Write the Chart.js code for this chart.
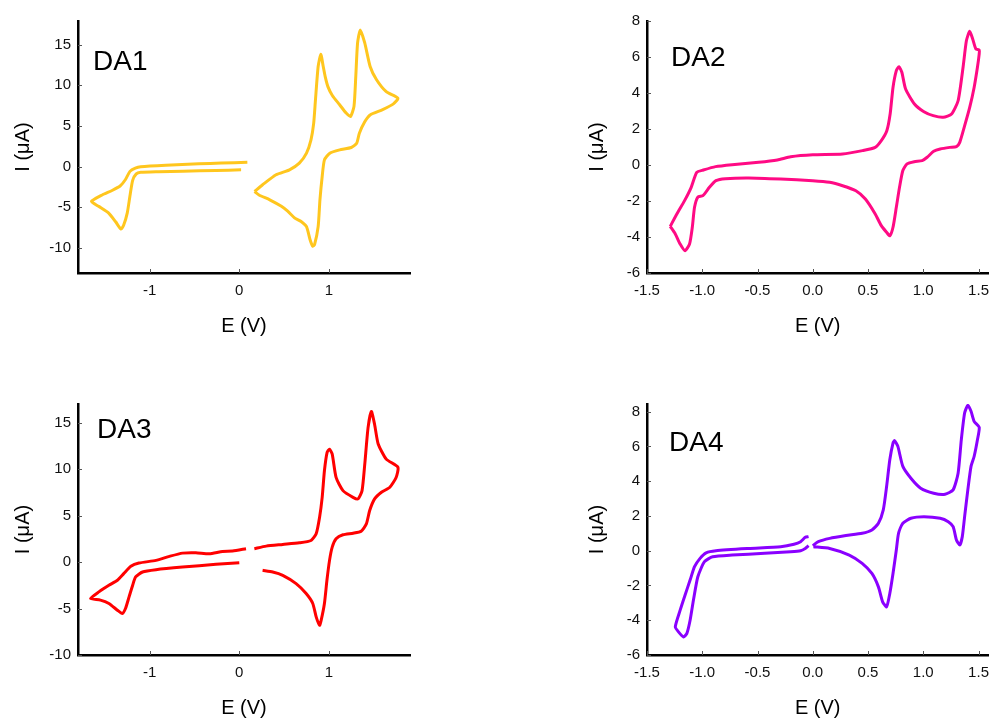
<!DOCTYPE html>
<html>
<head>
<meta charset="utf-8">
<title>Cyclic voltammograms DA1-DA4</title>
<script src="https://cdn.jsdelivr.net/npm/chart.js@4.4.1/dist/chart.umd.min.js"></script>
<style>
  body { margin: 0; background: #fff; }
  .panel { position: absolute; width: 499px; height: 360px; }
</style>
</head>
<body>
<div class="panel" style="left:0;top:0"><canvas id="da1"></canvas></div>
<div class="panel" style="left:499px;top:0"><canvas id="da2"></canvas></div>
<div class="panel" style="left:0;top:360px"><canvas id="da3"></canvas></div>
<div class="panel" style="left:499px;top:360px"><canvas id="da4"></canvas></div>
<script>
// potentials (V) and currents (uA), null = break in the trace
const da1E = [0.09, -0.2, -0.45, -0.82, -1.1, -1.16, -1.22, -1.27, -1.33, -1.42, -1.53, -1.65, -1.57, -1.46, -1.38, -1.32, -1.29, -1.25, -1.22, -1.19, -1.15, -1.1, -0.9, -0.63, -0.26, 0.02,
  null,
  0.17, 0.26, 0.41, 0.56, 0.67, 0.75, 0.80, 0.83, 0.85, 0.88, 0.91, 0.935, 0.96, 0.99, 1.04, 1.12, 1.19, 1.24, 1.28, 1.30, 1.32, 1.35, 1.40, 1.46, 1.53, 1.64, 1.77,
  1.72, 1.60, 1.46, 1.40, 1.34, 1.31, 1.25, 1.12, 1.01, 0.95, 0.925, 0.90, 0.88, 0.84, 0.82, 0.79, 0.75, 0.69, 0.62, 0.54, 0.47, 0.34, 0.22, 0.17];
const da1I = [0.53, 0.42, 0.33, 0.16, -0.03, -0.2, -0.6, -1.6, -2.4, -2.95, -3.5, -4.3, -4.9, -5.7, -6.8, -7.7, -7.2, -5.7, -3.6, -1.7, -0.9, -0.72, -0.64, -0.57, -0.48, -0.41,
  null,
  -3.07, -2.25, -1.02, -0.41, 0.41, 1.64, 3.28, 5.3, 8.2, 12.3, 13.8, 12.4, 11.0, 9.8, 8.7, 7.6, 6.6, 6.15, 7.4, 11.1, 15.2, 16.8, 15.2, 12.3, 10.7, 9.2, 8.4,
  7.7, 7.0, 6.35, 5.5, 4.1, 2.87, 2.34, 2.05, 1.64, 0.82, -1.23, -4.1, -7.4, -9.6, -9.8, -9.0, -7.4, -6.76, -6.35, -5.5, -4.9, -4.1, -3.5, -3.07];

const da2E = [-1.29, -1.23, -1.16, -1.10, -1.05, -0.99, -0.88, -0.73, -0.49, -0.32, -0.2, 0, 0.27, 0.45, 0.565, 0.62, 0.67, 0.70, 0.726, 0.756, 0.78, 0.806, 0.84, 0.92, 1.006, 1.09, 1.18, 1.256, 1.315, 1.36, 1.39, 1.42, 1.447, 1.476, 1.506,
  1.506, 1.49, 1.46, 1.42, 1.37, 1.33, 1.30, 1.24, 1.153, 1.094, 1.035, 0.99, 0.918, 0.853, 0.815, 0.785, 0.756, 0.726, 0.697, 0.668, 0.62, 0.565, 0.476, 0.39, 0.27, 0.153, 0, -0.29, -0.58, -0.79, -0.876, -0.935, -0.994, -1.04, -1.07, -1.09, -1.115, -1.156, -1.2, -1.244, -1.29];
const da2I = [-3.41, -2.72, -1.98, -1.24, -0.41, -0.28, -0.09, 0.02, 0.15, 0.28, 0.46, 0.57, 0.61, 0.8, 0.98, 1.35, 1.9, 2.83, 4.31, 5.24, 5.46, 5.15, 4.22, 3.39, 2.96, 2.74, 2.65, 2.83, 3.57, 5.43, 6.9, 7.43, 7.0, 6.44, 6.39,
  6.17, 5.43, 4.31, 3.2, 2.09, 1.26, 1.02, 0.98, 0.89, 0.76, 0.43, 0.24, 0.185, 0.06, -0.31, -1.24, -2.35, -3.46, -3.93, -3.74, -3.37, -2.72, -1.89, -1.43, -1.15, -0.96, -0.87, -0.78, -0.72, -0.76, -0.87, -1.24, -1.7, -1.78, -2.35, -3.46, -4.39, -4.76, -4.39, -3.83, -3.41];

const da3E = [0, -0.26, -0.634, -0.93, -1.08, -1.157, -1.19, -1.23, -1.27, -1.306, -1.36, -1.455, -1.55, -1.66,
  -1.567, -1.455, -1.36, -1.29, -1.21, -1.12, -0.93, -0.78, -0.634, -0.485, -0.336, -0.187, -0.075, 0.075,
  null,
  0.168, 0.3, 0.485, 0.67, 0.8, 0.858, 0.896, 0.925, 0.95, 0.98, 1.007, 1.037, 1.08, 1.157, 1.269, 1.325, 1.37, 1.4, 1.437, 1.474, 1.51, 1.55, 1.64, 1.77,
  1.75, 1.68, 1.586, 1.51, 1.455, 1.418, 1.36, 1.27, 1.157, 1.08, 1.037, 1.007, 0.978, 0.95, 0.914, 0.896, 0.858, 0.82, 0.746, 0.634, 0.485, 0.373, 0.26];
const da3I = [-0.07, -0.25, -0.54, -0.82, -1.07, -1.6, -2.5, -3.75, -5.0, -5.54, -5.18, -4.46, -4.1, -3.93,
  -3.21, -2.5, -1.96, -1.25, -0.46, -0.11, 0.18, 0.61, 0.96, 1.0, 0.89, 1.14, 1.18, 1.43,
  null,
  1.43, 1.71, 1.89, 2.07, 2.32, 3.04, 4.82, 6.96, 9.82, 11.8, 12.14, 11.6, 9.1, 7.68, 6.96, 6.79, 7.68, 10.5, 14.46, 16.2, 14.8, 12.7, 11.07, 10.2,
  9.1, 8.04, 7.5, 6.79, 5.54, 4.1, 3.32, 3.1, 2.93, 2.5, 1.6, 0.18, -1.96, -4.46, -6.25, -6.79, -5.9, -4.46, -3.39, -2.32, -1.43, -1.07, -0.89];

const da4E = [-0.038, -0.068, -0.11, -0.17, -0.29, -0.58, -0.876, -0.965, -1.02, -1.07, -1.11, -1.156, -1.2, -1.244,
  -1.215, -1.17, -1.14, -1.11, -1.08, -1.04, -0.98, -0.906, -0.73, -0.435, -0.2, -0.11, -0.068, -0.038,
  null,
  0, 0.05, 0.153, 0.3, 0.447, 0.535, 0.594, 0.638, 0.668, 0.697, 0.726, 0.74, 0.77, 0.815, 0.888, 0.976, 1.094, 1.197, 1.27, 1.315, 1.344, 1.374, 1.403, 1.432, 1.46, 1.506,
  1.49, 1.46, 1.432, 1.403, 1.374, 1.353, 1.33, 1.3, 1.27, 1.226, 1.153, 1.006, 0.888, 0.815, 0.776, 0.756, 0.726, 0.697, 0.668, 0.632, 0.594, 0.535, 0.447, 0.33, 0.153, 0.006];
const da4I = [0.81, 0.77, 0.52, 0.37, 0.23, 0.13, 0.0, -0.12, -0.44, -0.92, -1.69, -2.56, -3.42, -4.38,
  -4.67, -4.96, -4.77, -4.0, -2.85, -1.5, -0.63, -0.35, -0.25, -0.15, -0.06, 0, 0.13, 0.29,
  null,
  0.29, 0.52, 0.71, 0.87, 1.0, 1.19, 1.58, 2.35, 3.69, 5.23, 6.19, 6.33, 6.0, 4.85, 4.17, 3.6, 3.31, 3.25, 3.5, 4.46, 6.38, 7.92, 8.37, 8.02, 7.44, 7.1,
  6.38, 5.42, 4.85, 3.5, 1.96, 0.81, 0.33, 0.62, 1.38, 1.67, 1.87, 1.96, 1.87, 1.58, 1.0, 0.04, -1.31, -2.46, -3.23, -2.94, -2.08, -1.31, -0.73, -0.25, 0.13, 0.23];

// tick values
const wideETicks = [-1, 0, 1];
const narrowETicks = [-1.5, -1.0, -0.5, 0.0, 0.5, 1.0, 1.5];
const bigITicks = [-10, -5, 0, 5, 10, 15];
const smallITicks = [-6, -4, -2, 0, 2, 4, 6, 8];

const FONT = '"Liberation Sans", Arial, sans-serif';

// short tick marks pointing into the plot
const innerTicks = {
  id: 'innerTicks',
  afterDraw(chart) {
    const { ctx, chartArea, scales } = chart;
    ctx.save();
    ctx.strokeStyle = '#555';
    ctx.lineWidth = 1;
    ctx.beginPath();
    scales.x.ticks.forEach(t => {
      const px = Math.round(scales.x.getPixelForValue(t.value)) + 0.5;
      ctx.moveTo(px, chartArea.bottom);
      ctx.lineTo(px, chartArea.bottom - 4);
    });
    scales.y.ticks.forEach(t => {
      const py = Math.round(scales.y.getPixelForValue(t.value)) + 0.5;
      ctx.moveTo(chartArea.left, py);
      ctx.lineTo(chartArea.left + 4, py);
    });
    ctx.stroke();
    ctx.restore();
  }
};

// "DA1" style tag inside the plot
const panelLabel = {
  id: 'panelLabel',
  afterDraw(chart, args, opts) {
    const { ctx, chartArea } = chart;
    ctx.save();
    ctx.font = '28px ' + FONT;
    ctx.fillStyle = '#000';
    ctx.textBaseline = 'alphabetic';
    ctx.fillText(opts.text, chartArea.left + opts.dx, chartArea.top + opts.dy);
    ctx.restore();
  }
};

function toPoints(es, is) {
  return es.map((e, k) => ({ x: e, y: is[k] }));
}

function makeChart(id, p) {
  new Chart(document.getElementById(id), {
    type: 'scatter',
    data: {
      datasets: [{
        data: toPoints(p.e, p.i),
        showLine: true,
        borderColor: p.color,
        backgroundColor: p.color,
        borderWidth: 3,
        pointRadius: 0,
        tension: 0.2,
        spanGaps: false
      }]
    },
    options: {
      responsive: true,
      maintainAspectRatio: false,
      animation: false,
      layout: { padding: { top: p.top, right: p.right, left: 0, bottom: 0 } },
      plugins: {
        legend: { display: false },
        tooltip: { enabled: false },
        panelLabel: { text: p.label, dx: p.labelDx, dy: p.labelDy }
      },
      scales: {
        x: {
          type: 'linear',
          min: p.xMin,
          max: p.xMax,
          afterBuildTicks: s => { s.ticks = p.xTicks.map(v => ({ value: v })); },
          afterFit: s => { s.height = p.xHeight; },
          grid: { display: false, drawTicks: false },
          border: { display: true, color: '#000', width: 2.5 },
          ticks: {
            padding: 9,
            color: '#111',
            font: { family: FONT, size: 15 },
            callback: v => p.xDigits ? v.toFixed(p.xDigits) : String(v)
          },
          title: {
            display: true,
            text: 'E (V)',
            color: '#000',
            font: { family: FONT, size: 20 },
            padding: { top: 0, bottom: p.xTitlePad }
          }
        },
        y: {
          type: 'linear',
          min: p.yMin,
          max: p.yMax,
          afterBuildTicks: s => { s.ticks = p.yTicks.map(v => ({ value: v })); },
          afterFit: s => { s.width = p.yWidth; },
          grid: { display: false, drawTicks: false },
          border: { display: true, color: '#000', width: 2.5 },
          ticks: {
            padding: 7,
            color: '#111',
            font: { family: FONT, size: 15 },
            callback: v => String(v)
          },
          title: {
            display: true,
            text: 'I (μA)',
            color: '#000',
            font: { family: FONT, size: 20 },
            padding: { top: p.yTitlePad, bottom: 0 }
          }
        }
      }
    },
    plugins: [innerTicks, panelLabel]
  });
}

makeChart('da1', {
  e: da1E, i: da1I, color: '#FFC61E', label: 'DA1',
  xMin: -1.8, xMax: 1.905, xTicks: wideETicks, xDigits: 0,
  yMin: -13.1, yMax: 17.9, yTicks: bigITicks,
  top: 21, right: 89, yWidth: 78, xHeight: 87,
  xTitlePad: 22, yTitlePad: 11, labelDx: 15, labelDy: 49
});
makeChart('da2', {
  e: da2E, i: da2I, color: '#FF0A84', label: 'DA2',
  xMin: -1.5, xMax: 1.59, xTicks: narrowETicks, xDigits: 1,
  yMin: -6, yMax: 8, yTicks: smallITicks,
  top: 21, right: 1, yWidth: 148, xHeight: 87,
  xTitlePad: 22, yTitlePad: 86, labelDx: 24, labelDy: 45
});
makeChart('da3', {
  e: da3E, i: da3I, color: '#FF0000', label: 'DA3',
  xMin: -1.8, xMax: 1.905, xTicks: wideETicks, xDigits: 0,
  yMin: -10, yMax: 17, yTicks: bigITicks,
  top: 44, right: 89, yWidth: 78, xHeight: 65,
  xTitlePad: 0, yTitlePad: 11, labelDx: 19, labelDy: 34
});
makeChart('da4', {
  e: da4E, i: da4I, color: '#8A00FF', label: 'DA4',
  xMin: -1.5, xMax: 1.59, xTicks: narrowETicks, xDigits: 1,
  yMin: -6, yMax: 8.44, yTicks: smallITicks,
  top: 44, right: 1, yWidth: 148, xHeight: 65,
  xTitlePad: 0, yTitlePad: 86, labelDx: 22, labelDy: 47
});
</script>
</body>
</html>
